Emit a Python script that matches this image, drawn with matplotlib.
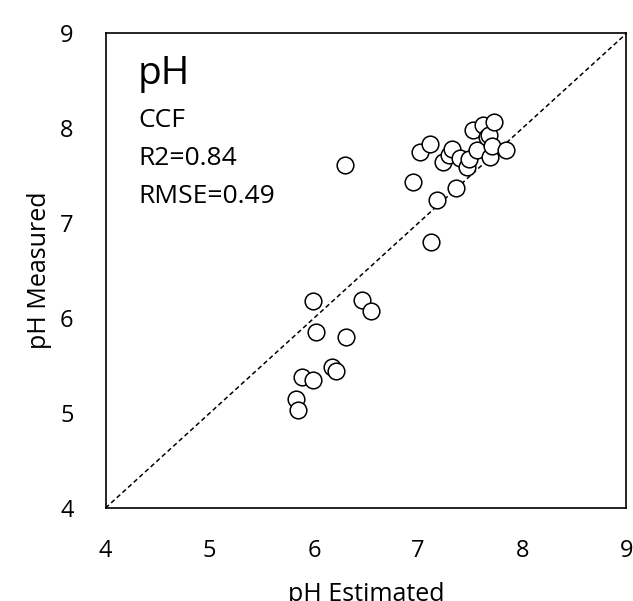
"""pH estimated vs measured scatter (CCF)."""

import matplotlib

matplotlib.use("Agg")
import matplotlib.pyplot as plt

plt.rcParams["font.family"] = ["Open Sans", "DejaVu Sans"]

# estimated / measured pH pairs
ph_estimated = [
    6.30, 6.95, 7.02, 7.11, 7.18, 7.36, 7.12, 7.24, 7.30, 7.33, 7.40,
    7.47, 7.49, 7.53, 7.57, 7.62, 7.66, 7.68, 7.69, 7.71, 7.73, 7.84,
    5.99, 6.46, 6.55, 6.02, 6.31, 6.17, 6.21, 5.89, 5.99, 5.83, 5.85,
]
ph_measured = [
    7.61, 7.43, 7.75, 7.83, 7.25, 7.37, 6.80, 7.65, 7.72, 7.78, 7.69,
    7.59, 7.68, 7.98, 7.77, 8.03, 7.91, 7.93, 7.70, 7.81, 8.07, 7.77,
    6.18, 6.19, 6.08, 5.85, 5.80, 5.49, 5.44, 5.38, 5.35, 5.15, 5.03,
]
axis_ticks = [4, 5, 6, 7, 8, 9]
stats_lines = ["CCF", "R2=0.84", "RMSE=0.49"]

fig = plt.figure(figsize=(6.33, 6.01), dpi=100)
ax = fig.add_axes([0.1667, 0.1547, 0.823, 0.7897])

ax.plot([4, 9], [4, 9], color="black", linestyle=(0, (3, 2)), linewidth=1.1, zorder=1)
ax.plot(ph_estimated, ph_measured, linestyle="none", marker="o", markersize=12,
        markerfacecolor="white", markeredgecolor="black", markeredgewidth=1.1, zorder=2)

ax.set_xlim(4, 9)
ax.set_ylim(4, 9)
ax.set_xticks(axis_ticks)
ax.set_yticks(axis_ticks)
ax.tick_params(length=0, labelsize=17)
ax.tick_params(axis="y", pad=23)
ax.tick_params(axis="x", pad=22)
for spine in ax.spines.values():
    spine.set_linewidth(1.2)
    spine.set_color("black")

ax.set_xlabel("pH Estimated", fontsize=18, labelpad=14)
ax.set_ylabel("pH Measured", fontsize=18, labelpad=6)

ax.text(0.062, 0.893, "pH", transform=ax.transAxes, fontsize=28, va="baseline")
for i, line in enumerate(stats_lines):
    ax.text(0.064, 0.803 - i * 0.0805, line, transform=ax.transAxes, fontsize=19,
            va="baseline")

fig.savefig("out.png", dpi=100)
